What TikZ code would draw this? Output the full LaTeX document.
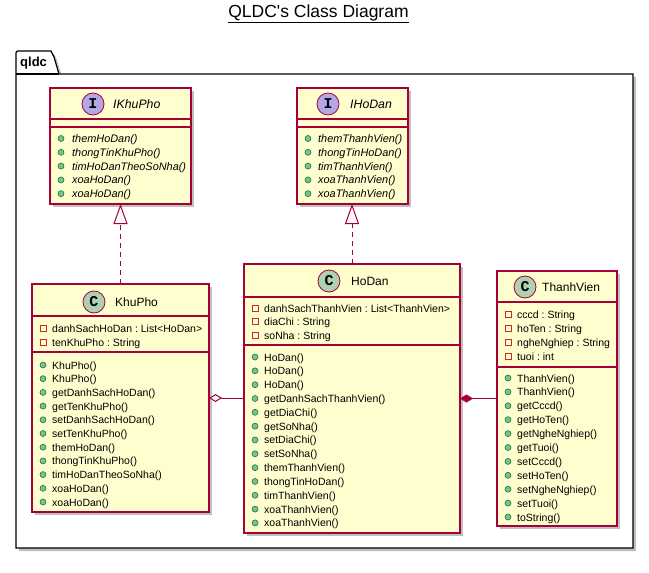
\documentclass[tikz,border=0pt]{standalone}
\usepackage{fontspec}
\setmainfont{Liberation Sans}
\newfontfamily\monob{Liberation Mono}
\usetikzlibrary{arrows.meta,shadows}
\definecolor{cfill}{HTML}{FEFECE}
\definecolor{cline}{HTML}{A80036}
\definecolor{ccirc}{HTML}{ADD1B2}
\definecolor{icirc}{HTML}{B4A7E5}
\definecolor{pubf}{HTML}{84BE84}
\definecolor{pubd}{HTML}{038048}
\definecolor{privd}{HTML}{C82930}
\frenchspacing
\tikzset{
  shad/.style={drop shadow={shadow xshift=3pt, shadow yshift=-3pt, fill=black, opacity=0.25}},
  classbox/.style={draw=cline, fill=cfill, line width=1.2pt, anchor=north west, inner sep=0pt, outer sep=0pt, shad},
  divider/.style={draw=cline, line width=1.2pt},
  spot/.style={circle, draw=cline, line width=0.8pt, minimum size=22pt, inner sep=0pt, font=\monob\bfseries\fontsize{15}{15}\selectfont},
  cname/.style={anchor=west, inner sep=0pt, font=\fontsize{12}{14}\selectfont},
  iname/.style={anchor=west, inner sep=0pt, font=\itshape\fontsize{12.3}{14}\selectfont},
  mem/.style={anchor=base west, inner sep=0pt, font=\fontsize{10.5}{13}\selectfont},
  imem/.style={anchor=base west, inner sep=0pt, font=\itshape\fontsize{10.9}{13}\selectfont},
  pub/.style={fill=pubf, draw=pubd, line width=0.6pt},
  priv/.style={draw=privd, line width=0.8pt},
  realize/.style={draw=cline, line width=1pt, dash pattern=on 5pt off 4pt, -{Triangle[open, length=20pt, width=14pt, fill=white, line width=1pt]}},
  aggr/.style={draw=cline, line width=1pt, {Diamond[open, length=13pt, width=8pt, fill=white, line width=1pt]}-},
  compo/.style={draw=cline, line width=1pt, {Diamond[length=13pt, width=8pt]}-},
  pkg/.style={draw=black, fill=white, line width=1.2pt, shad}
}
\newcommand\pubat[2]{\path[pub] ({#1},{#2}) circle (3);}
\newcommand\privat[2]{\path[priv] ({#1-3},{#2-3}) rectangle ({#1+3},{#2+3});}
\begin{document}
\begin{tikzpicture}[x=1pt,y=-1pt]
\useasboundingbox (0,0) rectangle (649,573);
% title
\node[font=\fontsize{17.5}{19}\selectfont, inner sep=0pt] (title) at (318.5,14) {\underline{QLDC\textquotesingle s Class Diagram}};
% package
\path[pkg] (16,74) -- (16,53) to[out=90,in=180] (18,51) -- (51,51) -- (54,57) -- (59,74) -- (633,74) -- (633,548) -- (16,548) -- cycle;
\draw[line width=1.2pt] (16,74) -- (59,74);
\node[anchor=west, inner sep=0pt, font=\bfseries\fontsize{13}{14}\selectfont] (pkgname) at (20,63) {qldc};

% ===== IKhuPho =====
\node[classbox, minimum width=141pt, minimum height=116pt] (ikhupho) at (50,88) {};
\draw[divider] (50,119) -- (191,119);
\draw[divider] (50,127) -- (191,127);
\node[spot, fill=icirc] (ikhuphospot) at (93,104) {I};
\node[iname] (ikhuphoname) at (113,104) {IKhuPho};
\foreach \t [count=\i] in {themHoDan(),thongTinKhuPho(),timHoDanTheoSoNha(),xoaHoDan(),xoaHoDan()} {
  \pubat{61}{138.5+13.8*(\i-1)}
  \node[imem] (ikm\i) at (72,{138.5+13.8*(\i-1)+4}) {\t};
}

% ===== IHoDan =====
\node[classbox, minimum width=111pt, minimum height=116pt] (ihodan) at (297,88) {};
\draw[divider] (297,119) -- (408,119);
\draw[divider] (297,127) -- (408,127);
\node[spot, fill=icirc] (ihodanspot) at (328,104) {I};
\node[iname] (ihodanname) at (350,104) {IHoDan};
\foreach \t [count=\i] in {themThanhVien(),thongTinHoDan(),timThanhVien(),xoaThanhVien(),xoaThanhVien()} {
  \pubat{308}{138.5+13.8*(\i-1)}
  \node[imem] (ihm\i) at (318,{138.5+13.8*(\i-1)+4}) {\t};
}

% ===== KhuPho =====
\node[classbox, minimum width=177pt, minimum height=228pt] (khupho) at (32,284) {};
\draw[divider] (32,316) -- (209,316);
\draw[divider] (32,352) -- (209,352);
\node[spot, fill=ccirc] (khuphospot) at (94,302) {C};
\node[cname] (khuphoname) at (115,302) {KhuPho};
\foreach \t [count=\i] in {danhSachHoDan : List<HoDan>,tenKhuPho : String} {
  \privat{43}{328+14*(\i-1)}
  \node[mem] (kha\i) at (52,{328+14*(\i-1)+4}) {\t};
}
\foreach \t [count=\i] in {KhuPho(),KhuPho(),getDanhSachHoDan(),getTenKhuPho(),setDanhSachHoDan(),setTenKhuPho(),themHoDan(),thongTinKhuPho(),timHoDanTheoSoNha(),xoaHoDan(),xoaHoDan()} {
  \pubat{43}{365+13.7*(\i-1)}
  \node[mem] (khm\i) at (52,{365+13.7*(\i-1)+4}) {\t};
}

% ===== HoDan =====
\node[classbox, minimum width=216pt, minimum height=269pt] (hodan) at (244,264) {};
\draw[divider] (244,297) -- (460,297);
\draw[divider] (244,345) -- (460,345);
\node[spot, fill=ccirc] (hodanspot) at (329,281) {C};
\node[cname] (hodanname) at (351,281) {HoDan};
\foreach \t [count=\i] in {danhSachThanhVien : List<ThanhVien>,diaChi : String,soNha : String} {
  \privat{255}{308+13.6*(\i-1)}
  \node[mem] (hda\i) at (264,{308+13.6*(\i-1)+4}) {\t};
}
\foreach \t [count=\i] in {HoDan(),HoDan(),HoDan(),getDanhSachThanhVien(),getDiaChi(),getSoNha(),setDiaChi(),setSoNha(),themThanhVien(),thongTinHoDan(),timThanhVien(),xoaThanhVien(),xoaThanhVien()} {
  \pubat{255}{357+13.83*(\i-1)}
  \node[mem] (hdm\i) at (264,{357+13.83*(\i-1)+4}) {\t};
}

% ===== ThanhVien =====
\node[classbox, minimum width=120pt, minimum height=255pt] (thanhvien) at (497,271) {};
\draw[divider] (497,302) -- (617,302);
\draw[divider] (497,367) -- (617,367);
\node[spot, fill=ccirc] (thanhvienspot) at (525,287) {C};
\node[cname] (thanhvienname) at (542,287) {ThanhVien};
\foreach \t [count=\i] in {cccd : String,hoTen : String,ngheNghiep : String,tuoi : int} {
  \privat{508}{314+14*(\i-1)}
  \node[mem] (tva\i) at (517,{314+14*(\i-1)+4}) {\t};
}
\foreach \t [count=\i] in {ThanhVien(),ThanhVien(),getCccd(),getHoTen(),getNgheNghiep(),getTuoi(),setCccd(),setHoTen(),setNgheNghiep(),setTuoi(),toString()} {
  \pubat{508}{378+13.9*(\i-1)}
  \node[mem] (tvm\i) at (517,{378+13.9*(\i-1)+4}) {\t};
}

% ===== connectors =====
\draw[realize] (khupho.north) -- (ikhupho.south);
\draw[realize] (hodan.north) -- (hodan.north |- ihodan.south);
\draw[aggr] (khupho.east) -- (khupho.east -| hodan.west);
\draw[compo] (hodan.east) -- (hodan.east -| thanhvien.west);
\end{tikzpicture}
\end{document}
